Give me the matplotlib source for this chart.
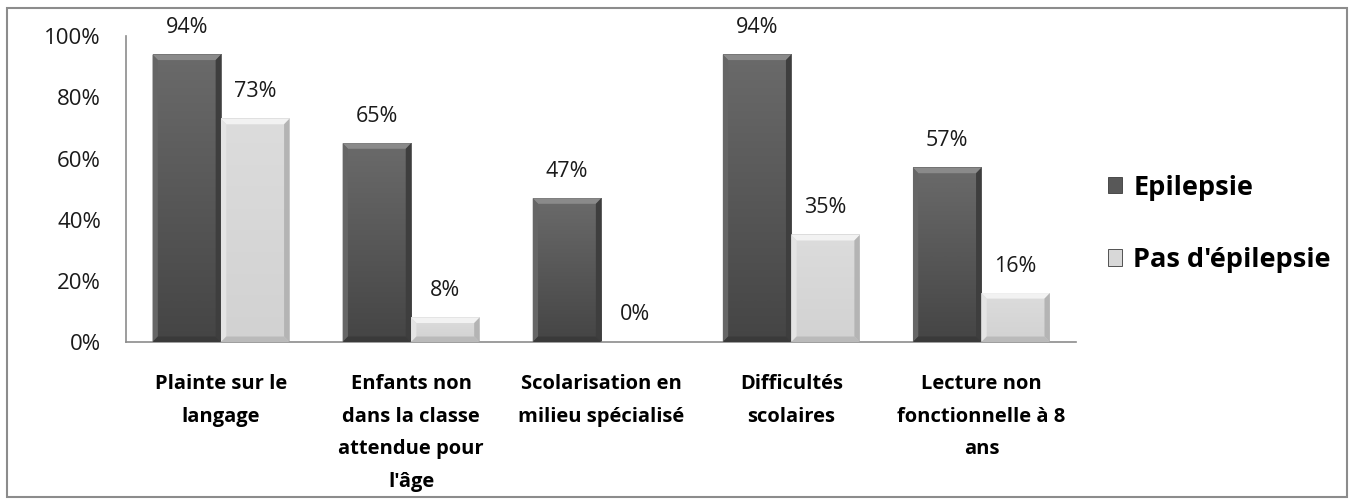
import matplotlib.pyplot as plt
from matplotlib.patches import Rectangle, Polygon
from matplotlib.colors import LinearSegmentedColormap
import numpy as np

plt.rcParams['font.family'] = ['Open Sans', 'DejaVu Sans']

categories = ["Plainte sur le\nlangage",
              "Enfants non\ndans la classe\nattendue pour\nl'âge",
              "Scolarisation en\nmilieu spécialisé",
              "Difficultés\nscolaires",
              "Lecture non\nfonctionnelle à 8\nans"]
epilepsie = [94, 65, 47, 94, 57]
pas_epilepsie = [73, 8, 0, 35, 16]
series_names = ["Epilepsie", "Pas d'épilepsie"]
yticks = [0, 20, 40, 60, 80, 100]

def draw_bevel(ax, bar, cmap, top, left, right, bottom):
    # gradient fill + bevel faces, all taken from the bar geometry
    x0, y0 = bar.get_x(), bar.get_y()
    w, h = bar.get_width(), bar.get_height()
    if h <= 0:
        return
    x1, y1 = x0 + w, y0 + h
    grad = np.linspace(1, 0, 50).reshape(-1, 1)
    ax.imshow(grad, extent=[x0, x1, y0, y1], aspect='auto', cmap=cmap,
              vmin=0, vmax=1, zorder=2.5, interpolation='bilinear')
    bx = 0.028
    by = min(1.8, h / 2)
    ax.add_patch(Polygon([(x0, y1), (x1, y1), (x1 - bx, y1 - by), (x0 + bx, y1 - by)],
                         color=top, lw=0, zorder=3))
    ax.add_patch(Polygon([(x0, y0), (x0, y1), (x0 + bx, y1 - by), (x0 + bx, y0 + by)],
                         color=left, lw=0, zorder=3))
    ax.add_patch(Polygon([(x1, y0), (x1, y1), (x1 - bx, y1 - by), (x1 - bx, y0 + by)],
                         color=right, lw=0, zorder=3))
    ax.add_patch(Polygon([(x0, y0), (x1, y0), (x1 - bx, y0 + by), (x0 + bx, y0 + by)],
                         color=bottom, lw=0, zorder=3))

fig = plt.figure(figsize=(13.54, 5.03), dpi=100)
ax = fig.add_axes([0.093, 0.32, 0.702, 0.608])

x = np.arange(len(categories))
w = 0.36
b1 = ax.bar(x - w / 2, epilepsie, w, color='#585858', label=series_names[0], zorder=2)
b2 = ax.bar(x + w / 2, pas_epilepsie, w, color='#d8d8d8', label=series_names[1], zorder=2)

dark_cmap = LinearSegmentedColormap.from_list('d', ['#454545', '#6a6a6a'])
light_cmap = LinearSegmentedColormap.from_list('l', ['#d2d2d2', '#dcdcdc'])
for bar in b1:
    draw_bevel(ax, bar, dark_cmap, '#8a8a8a', '#666666', '#3e3e3e', '#3a3a3a')
for bar in b2:
    draw_bevel(ax, bar, light_cmap, '#f2f2f2', '#e4e4e4', '#b4b4b4', '#bababa')

for bars, vals in [(b1, epilepsie), (b2, pas_epilepsie)]:
    for bar, v in zip(bars, vals):
        ax.annotate(f"{v}%", (bar.get_x() + bar.get_width() / 2, v),
                    xytext=(0, 19.5), textcoords='offset points',
                    ha='center', va='center', fontsize=15.5, color='#1a1a1a')

ax.set_xlim(-0.5, len(categories) - 0.5)
ax.set_ylim(0, 100)
ax.set_yticks(yticks)
ax.set_yticklabels([f"{t}%" for t in yticks], fontsize=16, color='#1a1a1a')
ax.set_xticks(x)
ax.set_xticklabels(categories, fontsize=14.5, fontweight='bold', linespacing=1.85, va='top')
ax.tick_params(axis='y', length=0, pad=18)
ax.tick_params(axis='x', length=0, pad=23)
for s in ['top', 'right']:
    ax.spines[s].set_visible(False)
for s in ['left', 'bottom']:
    ax.spines[s].set_color('#8c8c8c')
    ax.spines[s].set_linewidth(1.2)

leg = fig.legend(handles=[b1, b2], loc='center left', bbox_to_anchor=(0.8, 0.555),
                 frameon=False, prop={'weight': 'bold', 'size': 19.5},
                 handlelength=0.55, handleheight=0.55, handletextpad=0.4,
                 labelspacing=1.72)
for h in leg.legend_handles:
    h.set_edgecolor('#3a3a3a')
    h.set_linewidth(0.6)

fig.patches.append(Rectangle((0.005, 0.012), 0.99, 0.973, transform=fig.transFigure,
                             fill=False, edgecolor='#8c8c8c', lw=1.5))

fig.savefig('out.png', dpi=100)
